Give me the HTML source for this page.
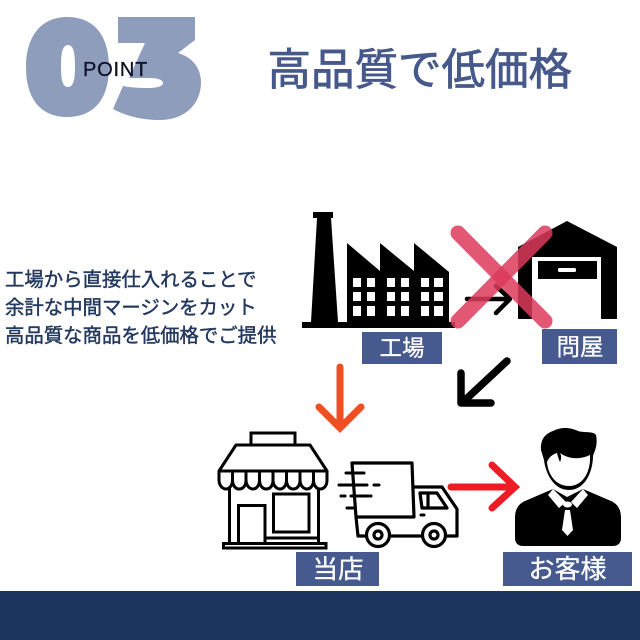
<!DOCTYPE html>
<html lang="ja"><head><meta charset="utf-8"><style>
html,body{margin:0;padding:0;background:#fff}
svg{display:block;filter:blur(.35px)}
text{font-family:"Liberation Sans","Noto Sans CJK JP",sans-serif}
</style></head><body>
<svg width="640" height="640" viewBox="0 0 640 640" xmlns="http://www.w3.org/2000/svg">
<rect width="640" height="640" fill="#fff"/>
<rect y="591" width="640" height="49" fill="#1c355e"/>
<!-- 03 -->
<path fill-rule="evenodd" fill="#8f9dbd" d="M67,17C96,17 109,38 109,67C109,98 95,117 67,117C40,117 26,98 26,67C26,38 40,17 67,17ZM68,45C62,45 61,55 61,66C61,78 62,87 68,87C74,87 75,78 75,66C75,55 74,45 68,45Z"/>
<path fill="#8f9dbd" d="M118,17H195V40L178,53C192,57 201,68 201,82C201,105 184,120 160,120C142,120 126,116 113,109L123,86C133,88 144,88 152,88C159,87 163,86 163,83C163,80 158,78 150,78H129L145,43H118Z"/>
<text x="83" y="76" font-size="20" letter-spacing=".8" fill="#0d1226" stroke="#0d1226" stroke-width=".3">POINT</text>
<text x="267.500" y="85" font-size="43.500" fill="#47598b" stroke="#47598b" stroke-width=".8">高品質で低価格</text>
<!-- body -->
<g font-size="19.4" fill="#23395f" stroke="#23395f" stroke-width=".45">
<text x="5" y="286">工場から直接仕入れることで</text>
<text x="5" y="314">余計な中間マージンをカット</text>
<text x="5" y="342">高品質な商品を低価格でご提供</text>
</g>
<!-- factory -->
<path d="M313,212H333V218H331L338,322H347V243L380,271V243L414,271V243L449,272V322H455V328H302V322H311L317,218H313Z" fill="#000"/>
<g fill="#fff">
<path d="M353,278h8v9h-8zM367,278h8v9h-8zM387,278h8v9h-8zM401,278h8v9h-8zM421,278h8v9h-8zM434,278h9v9h-9z"/>
<path d="M353,292h8v9h-8zM367,292h8v9h-8zM387,292h8v9h-8zM401,292h8v9h-8zM421,292h8v9h-8zM434,292h9v9h-9z"/>
<path d="M353,306h8v10h-8zM367,306h8v10h-8zM387,306h8v10h-8zM401,306h8v10h-8zM421,306h8v10h-8zM434,306h9v10h-9z"/>
</g>
<!-- warehouse -->
<path d="M567,221L617,247V319H601V257H532V319H518V247Z" fill="#000"/>
<rect x="538" y="261" width="59" height="18" fill="#000"/>
<rect x="558" y="268" width="18" height="4" rx="1.5" fill="#fff"/>
<!-- black arrow under X -->
<path d="M467,299H509M496,286L510,299L496,313" fill="none" stroke="#000" stroke-width="4.5" stroke-linecap="round" stroke-linejoin="round"/>
<!-- X -->
<g stroke="#dc3a5c" stroke-opacity=".85" stroke-width="15" stroke-linecap="round">
<path d="M458,233L545,321"/><path d="M545,233L458,321"/>
</g>
<!-- labels -->
<g fill="#475a8f">
<rect x="362" y="332" width="80" height="32"/>
<rect x="542" y="329" width="75" height="35"/>
<rect x="296" y="552" width="83" height="34"/>
<rect x="503" y="552" width="129" height="34"/>
</g>
<g fill="#fff" stroke="#fff" stroke-width=".3" text-anchor="middle">
<text x="402" y="356" font-size="22.5">工場</text>
<text x="580" y="355" font-size="23.5">問屋</text>
<text x="338" y="578" font-size="25.5">当店</text>
<text x="567.5" y="578" font-size="26">お客様</text>
</g>
<!-- black diagonal arrow -->
<path d="M507,361L463,402M461,373V403H491" fill="none" stroke="#000" stroke-width="7.5" stroke-linecap="round" stroke-linejoin="round"/>
<!-- orange arrow -->
<path d="M340,367V427M319,407L340,428L361,407" fill="none" stroke="#f04e23" stroke-width="7" stroke-linecap="round" stroke-linejoin="miter"/>
<!-- store -->
<g fill="none" stroke="#000" stroke-width="3">
<path d="M251,445V433H295V445"/>
<path d="M236,445H310L327,471H219Z" stroke-linejoin="round"/>
<path d="M219,471V480C219,486 223,489 226,489C229,489 232.500,486 232.500,480C232.500,486 236,489 239,489C243,489 246,486 246,480C246,486 250,489 253,489C256,489 259.500,486 259.500,480C259.500,486 263,489 266,489C270,489 273,486 273,480C273,486 277,489 280,489C283,489 286.500,486 286.500,480C286.500,486 290,489 293,489C297,489 300,486 300,480C300,486 304,489 307,489C310,489 313.500,486 313.500,480C313.500,486 317,489 320,489C324,489 327,486 327,480V471"/>
<path d="M232.500,471V480M246,471V480M259.500,471V480M273,471V480M286.500,471V480M300,471V480M313.500,471V480"/>
<path d="M229.500,488V543M318.500,488V543"/>
<path d="M238.500,543V505.500H265V543"/>
<rect x="273.500" y="494" width="35.500" height="38"/>
<path d="M265,538H319"/>
<rect x="223.500" y="543.500" width="102.500" height="4.500"/>
</g>
<!-- truck -->
<g fill="none" stroke="#000" stroke-width="3.2" stroke-linejoin="round">
<path d="M356,517L352,463H412L414,517Z"/>
<path d="M356,517L358,536H366M390,536H422M446,536H457V509L442,487H414"/>
<path d="M420,493H437L447,508H422Z"/>
<path d="M428,493V508"/>
<circle cx="378" cy="535" r="11.500" fill="#fff"/>
<circle cx="378" cy="535" r="4"/>
<circle cx="434" cy="535" r="11.500" fill="#fff"/>
<circle cx="434" cy="535" r="4"/>
</g>
<g stroke="#000" stroke-width="3" stroke-linecap="round">
<path d="M346,473H364M339,485H367M374,485H379M341,496H345M351,496H371M347,508H354M421,515H424"/>
</g>
<!-- red arrow -->
<path d="M451,487H515M492,465L515,487L492,508" fill="none" stroke="#ee1c25" stroke-width="7" stroke-linecap="round" stroke-linejoin="miter"/>
<!-- person -->
<path d="M553,489L525,501C518,504 515,510 515,518V538C515,543 518,546 523,546H613C618,546 621,543 621,538V518C621,510 618,504 611,501L583,489L567,497Z" fill="#000"/>
<path d="M541,450C540,438 547,433 553,431C562,426 572,428 578,431C584,433 594,431 596,435C598,445 595,450 593,456C593,470 586,490 569,490C552,490 545,470 544,460Z" fill="#000"/>
<path d="M547,462C549,457 553,454 557,453C558,457 559,460 560,462C562,458 561,455 560,453C568,459 580,460 590,455C591,470 584,486 569,486C556,486 548,475 547,462Z" fill="#fff"/>
<path d="M548,495L553,489L566,502L559,508ZM588,495L583,489L571,502L577,508Z" fill="#fff"/>
<ellipse cx="567.500" cy="504.500" rx="4.500" ry="3" fill="#fff"/>
<path d="M565,510H570L573,530L567.500,536L562,530Z" fill="#fff"/>
</svg>
</body></html>
